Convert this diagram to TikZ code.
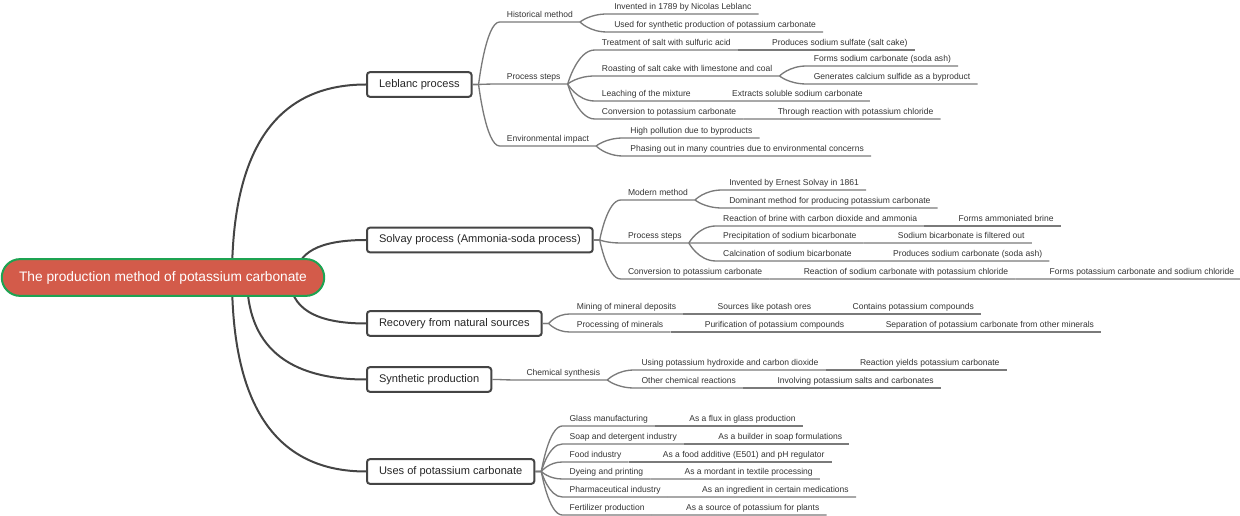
\documentclass[tikz,border=0pt]{standalone}
\usepackage{fontspec}
\setmainfont{Liberation Sans}
\usetikzlibrary{calc}
\definecolor{rootfill}{HTML}{D35B4A}
\definecolor{rootline}{HTML}{1DA352}
\definecolor{branchgray}{HTML}{444444}
\definecolor{leafgray}{HTML}{7A7A7A}
\definecolor{leaftext}{HTML}{333333}
\tikzset{
  mainbranch/.style={to path={.. controls ($(\tikztostart)!.667!(\tikztostart|-\tikztotarget)$) and ($(\tikztotarget)!.667!(\tikztostart|-\tikztotarget)$) .. (\tikztotarget)}},
  subbranch/.style={to path={.. controls (\tikztostart) and ($(\tikztostart|-\tikztotarget)!.35!(\tikztotarget)$) .. (\tikztotarget)}},
  rootbox/.style={draw=rootline, line width=1.5pt, fill=rootfill, text=white, rounded corners=13.8pt, minimum height=27.6pt, inner xsep=13pt, font=\fontsize{10.3pt}{12pt}\selectfont},
  mainbox/.style={draw=branchgray, line width=1.5pt, fill=white, rounded corners=2.2pt, minimum height=18.5pt, inner xsep=9pt, anchor=west, text=black!85, font=\fontsize{8.3pt}{10pt}\selectfont},
  leaf/.style={anchor=south west, xshift=20.25pt, inner xsep=5.25pt, inner ysep=0.4pt, text height=0.72em, text depth=0.25em, text=leaftext, font=\fontsize{6.4pt}{7.5pt}\selectfont},
  mainline/.style={draw=branchgray, line width=1.5pt},
  subline/.style={draw=leafgray, line width=1pt},
}
\begin{document}
\begin{tikzpicture}[x=0.75pt,y=-0.75pt]
  \useasboundingbox (0,0) rectangle (1240,516);
  % main topics
  \node[mainbox] (lb) at (366,84.5) {Leblanc process};
  \node[mainbox] (sv) at (366,240) {Solvay process (Ammonia-soda process)};
  \node[mainbox] (rc) at (366,323.5) {Recovery from natural sources};
  \node[mainbox] (sp) at (366,379.5) {Synthetic production};
  \node[mainbox] (us) at (366,471.5) {Uses of potassium carbonate};
  % root curves, drawn under the root
  \coordinate (r1) at (232,277.5);
  \coordinate (r2) at (296,277.5);
  \coordinate (r3) at (290,277.5);
  \coordinate (r4) at (247,277.5);
  \coordinate (r5) at (232,277.5);
  \draw[mainline] (r1) to[mainbranch] (lb.west);
  \draw[mainline] (r2) to[mainbranch] (sv.west);
  \draw[mainline] (r3) to[mainbranch] (rc.west);
  \draw[mainline] (r4) to[mainbranch] (sp.west);
  \draw[mainline] (r5) to[mainbranch] (us.west);
  \node[rootbox] (root) at (163,277.5) {The production method of potassium carbonate};
  % Leblanc process
  \node[leaf] (lbhist) at (lb.east |- 0,22) {Historical method};
  \node[leaf] (lbinv) at (lbhist.south east |- 0,14) {Invented in 1789 by Nicolas Leblanc};
  \node[leaf] (lbused) at (lbhist.south east |- 0,32) {Used for synthetic production of potassium carbonate};
  \node[leaf] (lbsteps) at (lb.east |- 0,84) {Process steps};
  \node[leaf] (lbtreat) at (lbsteps.south east |- 0,50) {Treatment of salt with sulfuric acid};
  \node[leaf] (lbsulf) at (lbtreat.south east |- 0,50) {Produces sodium sulfate (salt cake)};
  \node[leaf] (lbroast) at (lbsteps.south east |- 0,76) {Roasting of salt cake with limestone and coal};
  \node[leaf] (lbsoda) at (lbroast.south east |- 0,66) {Forms sodium carbonate (soda ash)};
  \node[leaf] (lbcas) at (lbroast.south east |- 0,84) {Generates calcium sulfide as a byproduct};
  \node[leaf] (lbleach) at (lbsteps.south east |- 0,101) {Leaching of the mixture};
  \node[leaf] (lbextr) at (lbleach.south east |- 0,101) {Extracts soluble sodium carbonate};
  \node[leaf] (lbconv) at (lbsteps.south east |- 0,119) {Conversion to potassium carbonate};
  \node[leaf] (lbthru) at (lbconv.south east |- 0,119) {Through reaction with potassium chloride};
  \node[leaf] (lbenv) at (lb.east |- 0,146) {Environmental impact};
  \node[leaf] (lbpoll) at (lbenv.south east |- 0,138) {High pollution due to byproducts};
  \node[leaf] (lbphase) at (lbenv.south east |- 0,156) {Phasing out in many countries due to environmental concerns};
  % Solvay process
  \node[leaf] (svmod) at (sv.east |- 0,200) {Modern method};
  \node[leaf] (svinv) at (svmod.south east |- 0,190) {Invented by Ernest Solvay in 1861};
  \node[leaf] (svdom) at (svmod.south east |- 0,208) {Dominant method for producing potassium carbonate};
  \node[leaf] (svsteps) at (sv.east |- 0,243) {Process steps};
  \node[leaf] (svreac) at (svsteps.south east |- 0,226) {Reaction of brine with carbon dioxide and ammonia};
  \node[leaf] (svbrine) at (svreac.south east |- 0,226) {Forms ammoniated brine};
  \node[leaf] (svprec) at (svsteps.south east |- 0,243) {Precipitation of sodium bicarbonate};
  \node[leaf] (svfilt) at (svprec.south east |- 0,243) {Sodium bicarbonate is filtered out};
  \node[leaf] (svcalc) at (svsteps.south east |- 0,261) {Calcination of sodium bicarbonate};
  \node[leaf] (svprod) at (svcalc.south east |- 0,261) {Produces sodium carbonate (soda ash)};
  \node[leaf] (svconv) at (sv.east |- 0,279) {Conversion to potassium carbonate};
  \node[leaf] (svkcl) at (svconv.south east |- 0,279) {Reaction of sodium carbonate with potassium chloride};
  \node[leaf] (svforms) at (svkcl.south east |- 0,279) {Forms potassium carbonate and sodium chloride};
  % Recovery from natural sources
  \node[leaf] (rcmine) at (rc.east |- 0,314) {Mining of mineral deposits};
  \node[leaf] (rcsrc) at (rcmine.south east |- 0,314) {Sources like potash ores};
  \node[leaf] (rccont) at (rcsrc.south east |- 0,314) {Contains potassium compounds};
  \node[leaf] (rcproc) at (rc.east |- 0,332) {Processing of minerals};
  \node[leaf] (rcpur) at (rcproc.south east |- 0,332) {Purification of potassium compounds};
  \node[leaf] (rcsep) at (rcpur.south east |- 0,332) {Separation of potassium carbonate from other minerals};
  % Synthetic production
  \node[leaf] (spchem) at (sp.east |- 0,380) {Chemical synthesis};
  \node[leaf] (spusing) at (spchem.south east |- 0,370) {Using potassium hydroxide and carbon dioxide};
  \node[leaf] (spyield) at (spusing.south east |- 0,370) {Reaction yields potassium carbonate};
  \node[leaf] (spother) at (spchem.south east |- 0,388) {Other chemical reactions};
  \node[leaf] (spinvol) at (spother.south east |- 0,388) {Involving potassium salts and carbonates};
  % Uses of potassium carbonate
  \node[leaf] (usglass) at (us.east |- 0,426) {Glass manufacturing};
  \node[leaf] (usflux) at (usglass.south east |- 0,426) {As a flux in glass production};
  \node[leaf] (ussoap) at (us.east |- 0,444) {Soap and detergent industry};
  \node[leaf] (usbuild) at (ussoap.south east |- 0,444) {As a builder in soap formulations};
  \node[leaf] (usfood) at (us.east |- 0,462) {Food industry};
  \node[leaf] (usadd) at (usfood.south east |- 0,462) {As a food additive (E501) and pH regulator};
  \node[leaf] (usdye) at (us.east |- 0,479) {Dyeing and printing};
  \node[leaf] (usmord) at (usdye.south east |- 0,479) {As a mordant in textile processing};
  \node[leaf] (uspharm) at (us.east |- 0,497) {Pharmaceutical industry};
  \node[leaf] (usingr) at (uspharm.south east |- 0,497) {As an ingredient in certain medications};
  \node[leaf] (usfert) at (us.east |- 0,515) {Fertilizer production};
  \node[leaf] (ussource) at (usfert.south east |- 0,515) {As a source of potassium for plants};
  % first level branches
  \foreach \p/\c in {lb/lbhist, lb/lbsteps, lb/lbenv, sv/svmod, sv/svsteps, sv/svconv,
      rc/rcmine, rc/rcproc, sp/spchem, us/usglass, us/ussoap, us/usfood, us/usdye, us/uspharm, us/usfert}
    \draw[subline] (\p.east) -- ++(6,0) to[subbranch] (\c.south west) -- (\c.south east);
  % deeper branches
  \foreach \p/\c in {lbhist/lbinv, lbhist/lbused, lbsteps/lbtreat, lbtreat/lbsulf, lbsteps/lbroast,
      lbroast/lbsoda, lbroast/lbcas, lbsteps/lbleach, lbleach/lbextr, lbsteps/lbconv, lbconv/lbthru,
      lbenv/lbpoll, lbenv/lbphase, svmod/svinv, svmod/svdom, svsteps/svreac, svreac/svbrine,
      svsteps/svprec, svprec/svfilt, svsteps/svcalc, svcalc/svprod, svconv/svkcl, svkcl/svforms,
      rcmine/rcsrc, rcsrc/rccont, rcproc/rcpur, rcpur/rcsep, spchem/spusing, spusing/spyield,
      spchem/spother, spother/spinvol, usglass/usflux, ussoap/usbuild, usfood/usadd, usdye/usmord,
      uspharm/usingr, usfert/ussource}
    \draw[subline] (\p.south east) to[subbranch] (\c.south west) -- (\c.south east);
\end{tikzpicture}
\end{document}
